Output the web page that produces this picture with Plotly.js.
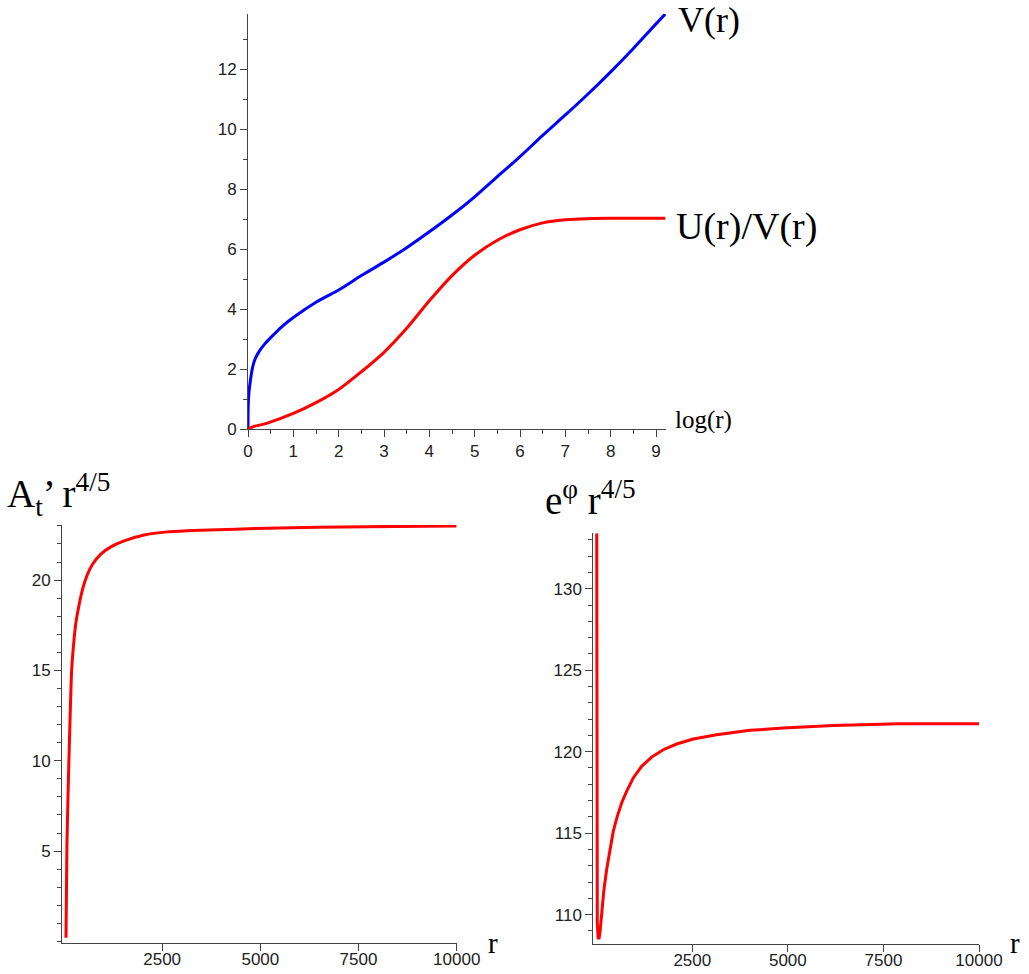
<!DOCTYPE html>
<html>
<head>
<meta charset="utf-8">
<script src="https://cdn.plot.ly/plotly-3.0.1.min.js"></script>
<style>html,body{margin:0;padding:0;background:#fff;}#chart{width:1029px;height:974px;}</style>
</head>
<body>
<div id="chart"></div>
<script>
// Top panel: V(r) and U(r)/V(r) vs log(r)
const logrV = [0, 0.005, 0.02, 0.044, 0.1, 0.155, 0.25, 0.375, 0.5, 0.75, 1.0, 1.5, 2.0, 2.5, 3.0, 3.5, 4.0, 4.5, 5.0, 5.5, 6.0, 6.5, 7.0, 7.5, 8.0, 8.5, 9.0, 9.205];
const V = [0, 0.8, 1.2, 1.52, 2.05, 2.33, 2.6, 2.85, 3.05, 3.42, 3.72, 4.23, 4.64, 5.12, 5.57, 6.05, 6.58, 7.14, 7.75, 8.42, 9.09, 9.80, 10.48, 11.18, 11.92, 12.70, 13.52, 13.85];
const logrU = [0, 0.12, 0.41, 1.0, 1.5, 2.0, 2.5, 3.0, 3.5, 4.0, 4.5, 5.0, 5.5, 6.0, 6.5, 7.0, 7.5, 8.0, 9.205];
const UoverV = [0, 0.08, 0.19, 0.52, 0.88, 1.32, 1.91, 2.56, 3.36, 4.28, 5.12, 5.8, 6.3, 6.65, 6.88, 6.98, 7.02, 7.03, 7.03];
const topXTicks = [0, 1, 2, 3, 4, 5, 6, 7, 8, 9];
const topYTicks = [0, 2, 4, 6, 8, 10, 12];

// Bottom-left: A_t' r^{4/5} vs r
const rA = [51, 76, 119, 152, 195, 246, 305, 389, 474, 584, 728, 940, 1194, 1533, 2040, 2633, 3480, 5173, 7713, 10000];
const Atr = [0.2, 5.41, 9.46, 12.04, 14.99, 16.46, 17.66, 18.67, 19.5, 20.24, 20.88, 21.44, 21.84, 22.17, 22.5, 22.67, 22.76, 22.87, 22.96, 23.0];
const leftYTicks = [5, 10, 15, 20];

// Bottom-right: e^phi r^{4/5} vs r
const rE = [0, 3, 8, 14, 35, 57, 84, 127, 188, 258, 345, 432, 537, 651, 781, 956, 1174, 1436, 1741, 2090, 2526, 3136, 4008, 4880, 6188, 7933, 10000];
const Ephi = [133.4, 120, 112.5, 109.5, 108.6, 108.5, 108.88, 110.1, 111.53, 112.76, 113.99, 115.11, 116.03, 116.85, 117.56, 118.39, 119.1, 119.67, 120.12, 120.47, 120.78, 121.04, 121.31, 121.45, 121.6, 121.72, 121.72];
const rightYTicks = [110, 115, 120, 125, 130];

const bottomXTicks = [2500, 5000, 7500, 10000];
const bottomXLabels = ['2500', '5000', '7500', '10000'];

const W = 1029, H = 974;
const px = v => v / W;
const py = v => 1 - v / H;

const tickFont = {family: 'Liberation Sans, Arial, sans-serif', size: 17, color: '#222'};
const serif = 'Liberation Serif, Times New Roman, serif';

function axis(domain, range, tickvals, minorDtick, extra) {
  const a = {
    domain: domain, range: range, tickvals: tickvals,
    showgrid: false, zeroline: false, showline: true,
    linecolor: '#444', linewidth: 1,
    ticks: 'outside', ticklen: 7, tickcolor: '#444', tickwidth: 1,
    tickfont: tickFont, fixedrange: true
  };
  if (minorDtick) a.minor = {dtick: minorDtick, ticks: 'outside', ticklen: 4, tickcolor: '#444', showgrid: false};
  return Object.assign(a, extra || {});
}

const traces = [
  {x: logrV, y: V, xaxis: 'x', yaxis: 'y', mode: 'lines', line: {color: '#0000ff', width: 3, shape: 'spline', smoothing: 0.8}},
  {x: logrU, y: UoverV, xaxis: 'x', yaxis: 'y', mode: 'lines', line: {color: '#ff0000', width: 3, shape: 'spline', smoothing: 0.8}},
  {x: rA, y: Atr, xaxis: 'x2', yaxis: 'y2', mode: 'lines', line: {color: '#ff0000', width: 3, shape: 'spline', smoothing: 0.6}},
  {x: rE, y: Ephi, xaxis: 'x3', yaxis: 'y3', mode: 'lines', line: {color: '#ff0000', width: 3, shape: 'linear'}}
];

function ann(text, x, y, size) {
  return {text: text, xref: 'paper', yref: 'paper', x: px(x), y: py(y), xanchor: 'left', yanchor: 'middle',
          showarrow: false, font: {family: serif, size: size, color: '#000'}};
}

const layout = {
  width: W, height: H, margin: {l: 0, r: 0, t: 0, b: 0},
  paper_bgcolor: '#fff', plot_bgcolor: '#fff', showlegend: false,
  xaxis: axis([px(248), px(666)], [0, 9.22], topXTicks, 0.5, {anchor: 'y'}),
  yaxis: axis([py(429), py(14)], [0, 13.85], topYTicks, 1, {anchor: 'x'}),
  xaxis2: axis([px(62), px(456.7)], [-50, 10000], bottomXTicks, null, {anchor: 'y2', ticktext: bottomXLabels, ticklabelstandoff: -6}),
  yaxis2: axis([py(942.7), py(525)], [-0.07, 23.05], leftYTicks, 1, {anchor: 'x2'}),
  xaxis3: axis([px(593.3), px(979)], [-90, 10000], bottomXTicks, null, {anchor: 'y3', ticktext: bottomXLabels, ticklabelstandoff: -6}),
  yaxis3: axis([py(944), py(533.3)], [108.2, 133.4], rightYTicks, 1, {anchor: 'x3'}),
  annotations: [
    ann('V(r)', 676, 20, 36),
    ann('U(r)/V(r)', 674, 226, 38),
    ann('log(r)', 673, 420, 25),
    ann('A<sub>t</sub>’ r<sup>4/5</sup>', 5, 494, 39),
    ann('e<sup>φ</sup> r<sup>4/5</sup>', 543, 498, 39),
    ann('r', 486, 943, 29),
    ann('r', 1008, 943, 29)
  ]
};

Plotly.newPlot('chart', traces, layout, {staticPlot: true, displayModeBar: false});
</script>
</body>
</html>
